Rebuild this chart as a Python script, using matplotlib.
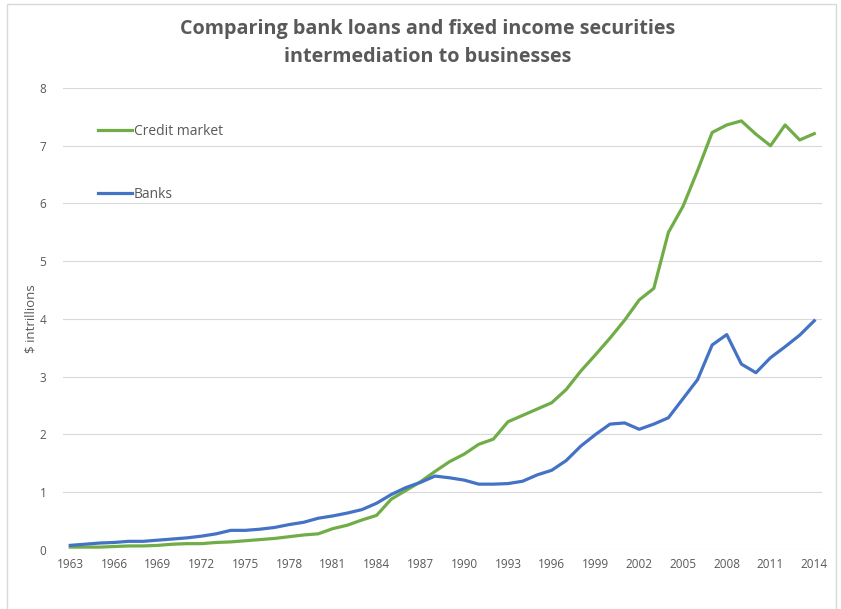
import numpy as np
import matplotlib.pyplot as plt
from matplotlib.lines import Line2D

years = list(range(1963, 2015))

credit_market = [0.05, 0.05, 0.05, 0.06, 0.07, 0.07, 0.08, 0.10, 0.11, 0.11,
                 0.13, 0.14, 0.16, 0.18, 0.20, 0.23, 0.26, 0.28, 0.37, 0.43,
                 0.52, 0.60, 0.88, 1.03, 1.18, 1.36, 1.53, 1.66, 1.83, 1.92,
                 2.22, 2.33, 2.44, 2.55, 2.78, 3.10, 3.38, 3.67, 3.98, 4.33,
                 4.53, 5.50, 5.95, 6.57, 7.23, 7.36, 7.43, 7.20, 7.00, 7.36,
                 7.10, 7.21]

banks = [0.08, 0.10, 0.12, 0.13, 0.15, 0.15, 0.17, 0.19, 0.21, 0.24,
         0.28, 0.34, 0.34, 0.36, 0.39, 0.44, 0.48, 0.55, 0.59, 0.64,
         0.70, 0.81, 0.96, 1.08, 1.17, 1.28, 1.25, 1.21, 1.14, 1.14,
         1.15, 1.19, 1.30, 1.38, 1.55, 1.80, 2.00, 2.18, 2.20, 2.09,
         2.18, 2.29, 2.62, 2.95, 3.55, 3.73, 3.22, 3.07, 3.33, 3.52,
         3.72, 3.97]

tick_years = years[::3]

plt.rcParams['font.family'] = ['Open Sans', 'DejaVu Sans']
grey = '#595959'

fig = plt.figure(figsize=(8.41, 6.09), dpi=100)
ax = fig.add_axes([0.0749, 0.0969, 0.902, 0.7586])

ax.plot(years, credit_market, color='#70AD47', lw=2.3, label='Credit market',
        solid_joinstyle='round')
ax.plot(years, banks, color='#4472C4', lw=2.3, label='Banks',
        solid_joinstyle='round')

ax.set_xlim(1962.5, 2014.5)
ax.set_ylim(0, 8)
ax.set_yticks(range(0, 9))
ax.set_xticks(tick_years)
ax.tick_params(length=0, labelsize=8.5, labelcolor=grey, pad=6)
ax.tick_params(axis='y', pad=12)
ax.grid(axis='y', color='#d9d9d9', lw=0.8)
ax.set_axisbelow(True)
for s in ax.spines.values():
    s.set_visible(False)

ax.set_ylabel('$ intrillions', fontsize=9.5, color=grey)
ax.yaxis.set_label_coords(-0.034, 0.5)

ax.legend(loc='upper left', bbox_to_anchor=(0.030, 0.95), frameon=False,
          fontsize=10, labelcolor=grey, handlelength=2.4,
          handletextpad=0.15, labelspacing=3.5)

fig.text(0.509, 0.952, 'Comparing bank loans and fixed income securities',
         ha='center', va='center', fontsize=14.2, fontweight='bold', color=grey)
fig.text(0.509, 0.907, 'intermediation to businesses',
         ha='center', va='center', fontsize=14.2, fontweight='bold', color=grey)

# chart area border
fig.add_artist(Line2D([0.008, 0.008, 0.994, 0.994], [0.0, 0.993, 0.993, 0.0],
                      transform=fig.transFigure, color='#d9d9d9', lw=1))

fig.savefig('out.png', dpi=100)
